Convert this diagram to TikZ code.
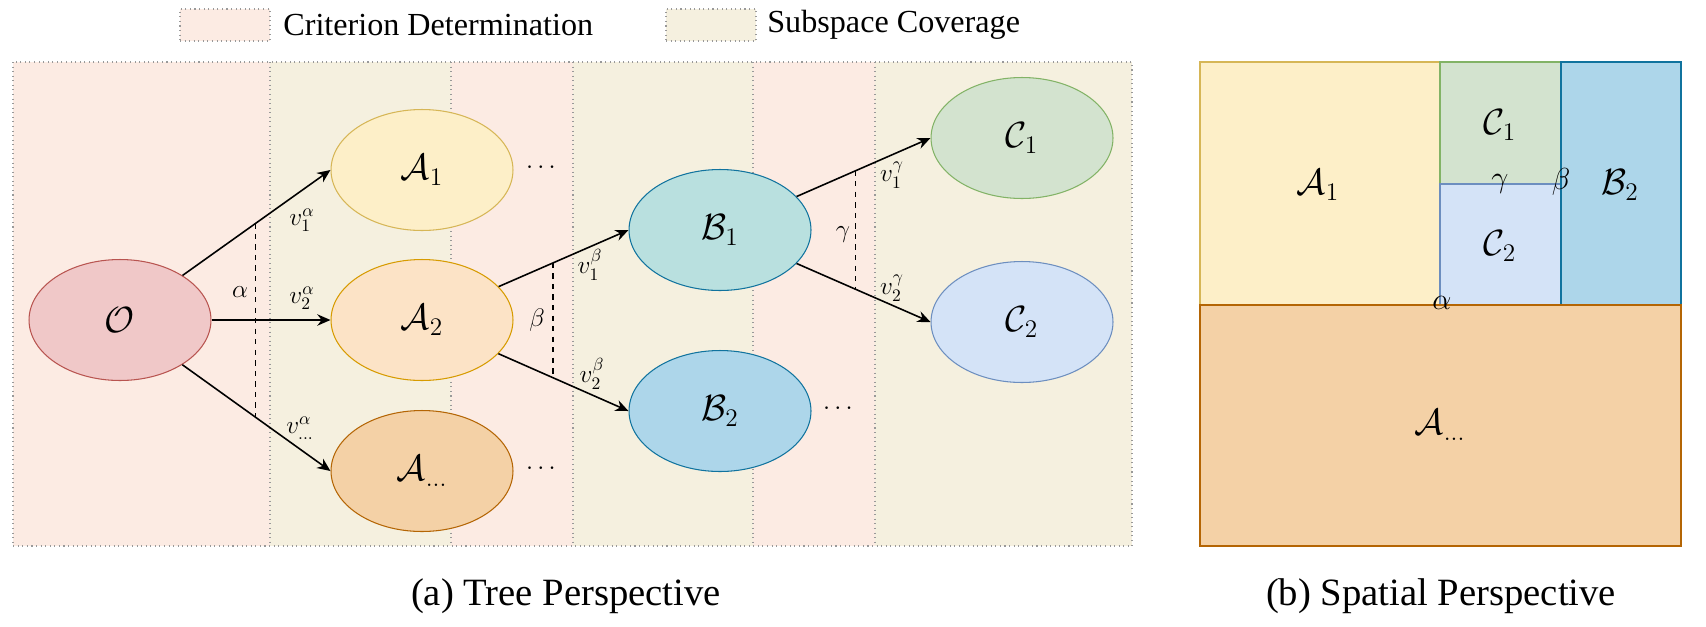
\documentclass[tikz,border=0pt]{standalone}
\usepackage{amsmath}
\usepackage{amssymb}
\usepackage[no-math]{fontspec}
\setmainfont{Liberation Serif}
\usepackage{xcolor}
\usetikzlibrary{shapes.geometric,arrows.meta,calc}

\definecolor{critbg}{HTML}{FCEBE3}
\definecolor{covbg}{HTML}{F5F0DF}
\definecolor{ofill}{HTML}{F0C8C8}
\definecolor{oline}{HTML}{B85450}
\definecolor{aonefill}{HTML}{FDEFC8}
\definecolor{aoneline}{HTML}{D6B656}
\definecolor{atwofill}{HTML}{FCE3C6}
\definecolor{atwoline}{HTML}{D79B00}
\definecolor{adotfill}{HTML}{F4D1A6}
\definecolor{adotline}{HTML}{B46504}
\definecolor{bonefill}{HTML}{B9E0DF}
\definecolor{btwofill}{HTML}{ADD6EA}
\definecolor{bline}{HTML}{10739E}
\definecolor{conefill}{HTML}{D3E3CF}
\definecolor{coneline}{HTML}{82B366}
\definecolor{ctwofill}{HTML}{D4E3F7}
\definecolor{ctwoline}{HTML}{6C8EBF}

\newcommand{\nodefont}{\fontsize{20}{24}\selectfont}
\newcommand{\labfont}{\fontsize{14}{17}\selectfont}
\newcommand{\cutfont}{\fontsize{16}{19}\selectfont}
\newcommand{\capfont}{\fontsize{22}{26}\selectfont}
\newcommand{\legfont}{\fontsize{18.3}{22}\selectfont}

\begin{document}
\begin{tikzpicture}[x=0.02cm, y=-0.02cm,
            band/.style={draw=gray!80, dotted, line width=0.6pt},
            ell/.style={ellipse, minimum width=3.64cm, minimum height=2.42cm, inner sep=0pt, line width=0.6pt, font=\nodefont},
            edge/.style={-{Stealth[length=7.5pt, width=6.5pt]}, line width=0.9pt},
            cut/.style={dashed, line width=0.8pt},
            lab/.style={font=\labfont, inner sep=0pt},
            region/.style={line width=0.7pt},
            legbox/.style={band, minimum width=1.8cm, minimum height=0.64cm, inner sep=0pt}]
            \useasboundingbox (0,0) rectangle (1706,626);

            \node[legbox, fill=critbg] (legcritbox) at (225,25) {};
            \node[anchor=west, font=\legfont, inner sep=0pt] (legcrit) at (283,25) {Criterion Determination};
            \node[legbox, fill=covbg] (legcovbox) at (711,25) {};
            \node[anchor=west, font=\legfont, inner sep=0pt] (legcov) at (767,25) {Subspace Coverage};

            \foreach \xa/\xb/\col in {13/270/critbg, 270/451/covbg, 451/573/critbg, 573/753/covbg, 753/875/critbg, 875/1132/covbg}
                \fill[\col] (\xa,62) rectangle (\xb,546);
            \foreach \xx in {270,451,573,753,875}
                \draw[band] (\xx,62) -- (\xx,546);
            \draw[band] (13,62) rectangle (1132,546);

            \node[ell, fill=ofill, draw=oline] (O) at (120,320) {$\mathcal{O}$};
            \node[ell, fill=aonefill, draw=aoneline] (A1) at (422,170) {$\mathcal{A}_1$};
            \node[ell, fill=atwofill, draw=atwoline] (A2) at (422,320) {$\mathcal{A}_2$};
            \node[ell, fill=adotfill, draw=adotline] (Ad) at (422,471) {$\mathcal{A}_{\dots}$};
            \node[ell, fill=bonefill, draw=bline] (B1) at (720,230) {$\mathcal{B}_1$};
            \node[ell, fill=btwofill, draw=bline] (B2) at (720,411) {$\mathcal{B}_2$};
            \node[ell, fill=conefill, draw=coneline] (C1) at (1022,138) {$\mathcal{C}_1$};
            \node[ell, fill=ctwofill, draw=ctwoline] (C2) at (1022,322) {$\mathcal{C}_2$};

            \node[lab] (dotsA1) at (543,168) {$\cdots$};
            \node[lab] (dotsAd) at (543,469) {$\cdots$};
            \node[lab] (dotsB2) at (840,409) {$\cdots$};

            \draw[edge] (O) -- (A1.west);
            \draw[edge] (O) -- (A2.west);
            \draw[edge] (O) -- (Ad.west);
            \draw[edge] (A2) -- (B1.west);
            \draw[edge] (A2) -- (B2.west);
            \draw[edge] (B1) -- (C1.west);
            \draw[edge] (B1) -- (C2.west);

            \draw[cut] ($(O.center)!0.645!(A1.west)$) -- ($(O.center)!0.645!(Ad.west)$);
            \draw[cut] ($(A2.center)!0.635!(B1.west)$) -- ($(A2.center)!0.635!(B2.west)$);
            \draw[cut] ($(B1.center)!0.645!(C1.west)$) -- ($(B1.center)!0.645!(C2.west)$);

            \node[lab] (alpha) at (240,292) {$\alpha$};
            \node[lab] (beta) at (537,320) {$\beta$};
            \node[lab] (gamma) at (843,235) {$\gamma$};

            \node[lab] (vaone) at (302,220) {$v_1^{\alpha}$};
            \node[lab] (vatwo) at (302,298) {$v_2^{\alpha}$};
            \node[lab] (vadot) at (300,428) {$v_{\dots}^{\alpha}$};
            \node[lab] (vbone) at (590,265) {$v_1^{\beta}$};
            \node[lab] (vbtwo) at (592,374) {$v_2^{\beta}$};
            \node[lab] (vgone) at (892,175) {$v_1^{\gamma}$};
            \node[lab] (vgtwo) at (892,288) {$v_2^{\gamma}$};

            \filldraw[region, fill=aonefill, draw=aoneline] (1200,62) rectangle (1440,305);
            \filldraw[region, fill=conefill, draw=coneline] (1440,62) rectangle (1561,184);
            \filldraw[region, fill=ctwofill, draw=ctwoline] (1440,184) rectangle (1561,305);
            \filldraw[region, fill=btwofill, draw=bline] (1561,62) rectangle (1681,305);
            \filldraw[region, fill=adotfill, draw=adotline] (1200,305) rectangle (1681,546);

            \node[font=\nodefont] (sA1) at (1318,185) {$\mathcal{A}_1$};
            \node[font=\nodefont] (sC1) at (1500,125) {$\mathcal{C}_1$};
            \node[font=\nodefont] (sC2) at (1500,246) {$\mathcal{C}_2$};
            \node[font=\nodefont] (sB2) at (1620,185) {$\mathcal{B}_2$};
            \node[font=\nodefont] (sAd) at (1440,425) {$\mathcal{A}_{\dots}$};
            \node[font=\cutfont, inner sep=0pt] (sgamma) at (1500,184) {$\gamma$};
            \node[font=\cutfont, inner sep=0pt] (sbeta) at (1561,182) {$\beta$};
            \node[font=\cutfont, inner sep=0pt] (salpha) at (1442,303) {$\alpha$};

            \node[font=\capfont] (capa) at (566,596) {(a) Tree Perspective};
            \node[font=\capfont] (capb) at (1441,596) {(b) Spatial Perspective};
        \end{tikzpicture}
\end{document}
